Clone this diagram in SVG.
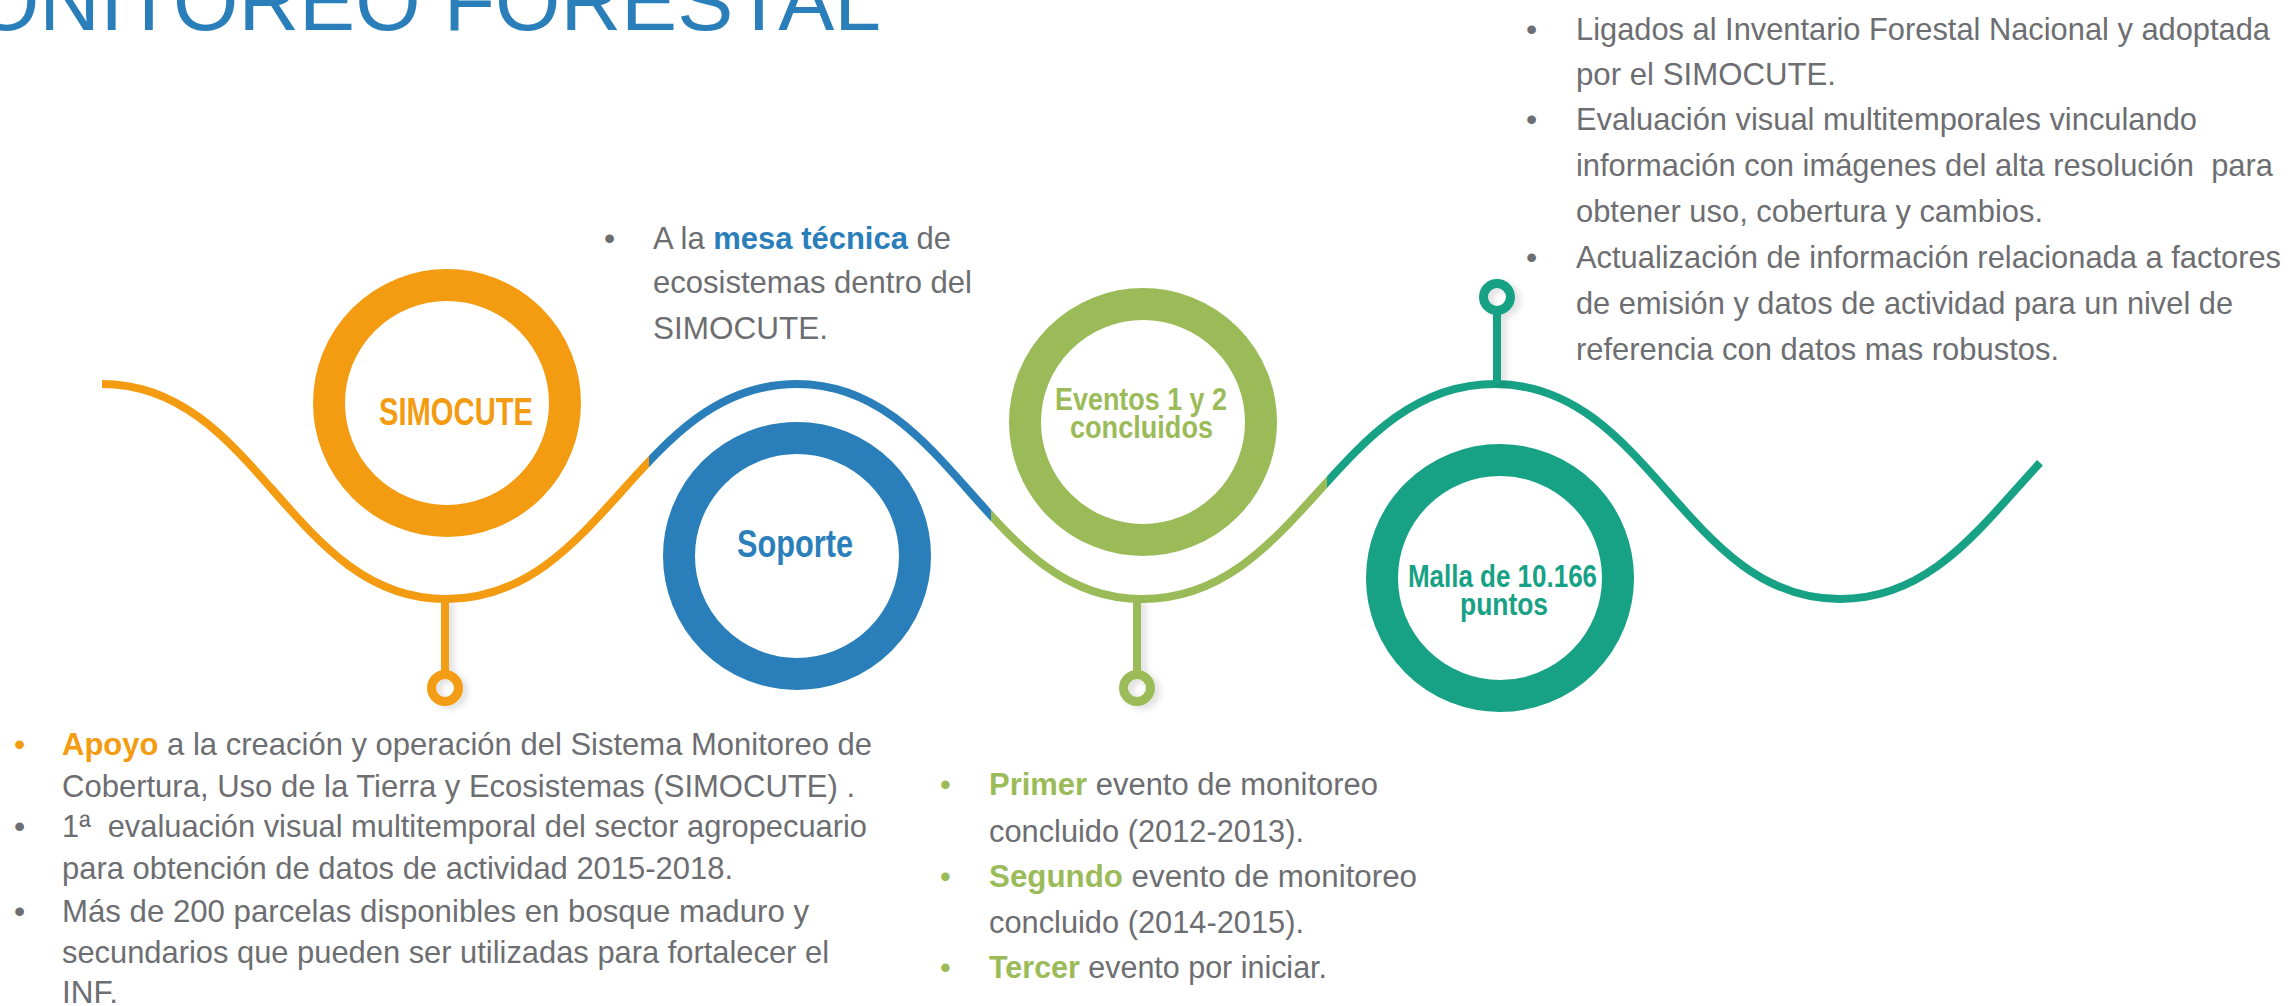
<svg xmlns="http://www.w3.org/2000/svg" width="2288" height="1006" viewBox="0 0 2288 1006">
<defs>
<style>
.t{font-family:"Liberation Sans",Arial,sans-serif;font-size:32px;fill:#6D6E71}
.m{font-size:31px}
.b{font-weight:bold}
.ring{fill:none;stroke-width:32}
.lbl{font-family:"Liberation Sans",Arial,sans-serif;font-weight:bold;text-anchor:start}
.w{fill:none;stroke-width:8;stroke-linecap:butt}
.stem{stroke-width:8;fill:none}
.dot{fill:none;stroke-width:9}
.or{stroke:#F39C12}.bl{stroke:#2A7FBA}.gr{stroke:#9BBB59}.te{stroke:#17A185}
.fo{fill:#F39C12}.fb{fill:#2A7FBA}.fg{fill:#9BBB59}.ft{fill:#17A185}
</style>
<path id="wave" d="M102 384 C257 384 291 599 446 599 C604 599 639 384 797 384 C952 384 987 599 1142 599 C1301 599 1336 384 1495 384 C1650 384 1685 599 1840 599 C1932.4 599 1982.4 524.2 2040 462.8"/>
<clipPath id="cO"><rect x="0" y="0" width="649" height="1006"/></clipPath>
<clipPath id="cB"><rect x="649" y="0" width="342" height="1006"/></clipPath>
<clipPath id="cG"><rect x="991" y="0" width="336" height="1006"/></clipPath>
<clipPath id="cT"><rect x="1327" y="0" width="961" height="1006"/></clipPath>
<filter id="sh" x="-100%" y="-20%" width="300%" height="140%">
<feDropShadow dx="5" dy="3" stdDeviation="3" flood-color="#000" flood-opacity="0.12"/>
</filter>
</defs>
<rect width="2288" height="1006" fill="#fff"/>

<text id="title" x="881" y="30" text-anchor="end" style="font-family:'Liberation Sans',Arial,sans-serif;font-size:84px;fill:#2A7FBA">MONITOREO FORESTAL</text>

<g id="connectors">
<use href="#wave" class="w or" clip-path="url(#cO)"/>
<use href="#wave" class="w bl" clip-path="url(#cB)"/>
<use href="#wave" class="w gr" clip-path="url(#cG)"/>
<use href="#wave" class="w te" clip-path="url(#cT)"/>
<g filter="url(#sh)">
<line class="stem or" x1="445" y1="599" x2="445" y2="675"/>
<circle class="dot or" cx="445" cy="688" r="13.5"/>
<line class="stem gr" x1="1137" y1="599" x2="1137" y2="675"/>
<circle class="dot gr" cx="1137" cy="688" r="13.5"/>
<line class="stem te" x1="1497" y1="384" x2="1497" y2="310"/>
<circle class="dot te" cx="1497" cy="297" r="13.5"/>
</g>
</g>

<g id="node-simocute">
<circle class="ring or" cx="447" cy="403" r="118"/>
<text class="lbl fo" x="379" y="425" font-size="39" textLength="154" lengthAdjust="spacingAndGlyphs">SIMOCUTE</text>
</g>
<g id="node-soporte">
<circle class="ring bl" cx="797" cy="556" r="118"/>
<text class="lbl fb" x="737" y="557" font-size="39" textLength="116" lengthAdjust="spacingAndGlyphs">Soporte</text>
</g>
<g id="node-eventos">
<circle class="ring gr" cx="1143" cy="422" r="118"/>
<text class="lbl fg" x="1055" y="410" font-size="31" textLength="172" lengthAdjust="spacingAndGlyphs">Eventos 1 y 2</text>
<text class="lbl fg" x="1070" y="438" font-size="31" textLength="143" lengthAdjust="spacingAndGlyphs">concluidos</text>
</g>
<g id="node-malla">
<circle class="ring te" cx="1500" cy="578" r="118"/>
<text class="lbl ft" x="1408" y="587" font-size="32" textLength="189" lengthAdjust="spacingAndGlyphs">Malla de 10.166</text>
<text class="lbl ft" x="1460" y="615" font-size="32" textLength="88" lengthAdjust="spacingAndGlyphs">puntos</text>
</g>

<g id="text-top-right">
<text class="t" x="1526" y="40">•</text>
<text class="t" x="1526" y="130">•</text>
<text class="t" x="1526" y="268">•</text>
<text class="t" x="1576" y="40" textLength="694" lengthAdjust="spacingAndGlyphs">Ligados al Inventario Forestal Nacional y adoptada</text>
<text class="t" x="1576" y="85" textLength="260" lengthAdjust="spacingAndGlyphs">por el SIMOCUTE.</text>
<text class="t" x="1576" y="130" textLength="621" lengthAdjust="spacingAndGlyphs">Evaluación visual multitemporales vinculando</text>
<text class="t" x="1576" y="176" textLength="697" lengthAdjust="spacingAndGlyphs" xml:space="preserve">información con imágenes del alta resolución  para</text>
<text class="t" x="1576" y="222" textLength="467" lengthAdjust="spacingAndGlyphs">obtener uso, cobertura y cambios.</text>
<text class="t" x="1576" y="268" textLength="705" lengthAdjust="spacingAndGlyphs">Actualización de información relacionada a factores</text>
<text class="t" x="1576" y="314" textLength="657" lengthAdjust="spacingAndGlyphs">de emisión y datos de actividad para un nivel de</text>
<text class="t" x="1576" y="360" textLength="483" lengthAdjust="spacingAndGlyphs">referencia con datos mas robustos.</text>
</g>

<g id="text-mesa">
<text class="t" x="604" y="249">•</text>
<text class="t" x="653" y="249" textLength="298" lengthAdjust="spacingAndGlyphs">A la <tspan class="b fb">mesa técnica</tspan> de</text>
<text class="t" x="653" y="293" textLength="319" lengthAdjust="spacingAndGlyphs">ecosistemas dentro del</text>
<text class="t" x="653" y="339" textLength="175" lengthAdjust="spacingAndGlyphs">SIMOCUTE.</text>
</g>

<g id="text-bottom-left">
<text class="t fo" x="14" y="755">•</text>
<text class="t" x="14" y="837">•</text>
<text class="t" x="14" y="922">•</text>
<text class="t" x="62" y="755" textLength="810" lengthAdjust="spacingAndGlyphs"><tspan class="b fo">Apoyo</tspan> a la creación y operación del Sistema Monitoreo de</text>
<text class="t" x="62" y="797" textLength="793" lengthAdjust="spacingAndGlyphs">Cobertura, Uso de la Tierra y Ecosistemas (SIMOCUTE) .</text>
<text class="t" x="62" y="837" textLength="805" lengthAdjust="spacingAndGlyphs" xml:space="preserve">1ª  evaluación visual multitemporal del sector agropecuario</text>
<text class="t" x="62" y="879" textLength="671" lengthAdjust="spacingAndGlyphs">para obtención de datos de actividad 2015-2018.</text>
<text class="t" x="62" y="922" textLength="747" lengthAdjust="spacingAndGlyphs">Más de 200 parcelas disponibles en bosque maduro y</text>
<text class="t" x="62" y="963" textLength="767" lengthAdjust="spacingAndGlyphs">secundarios que pueden ser utilizadas para fortalecer el</text>
<text class="t" x="62" y="1003" textLength="56" lengthAdjust="spacingAndGlyphs">INF.</text>
</g>

<g id="text-bottom-mid">
<text class="t m fg" x="940" y="795">•</text>
<text class="t m fg" x="940" y="887">•</text>
<text class="t m fg" x="940" y="978">•</text>
<text class="t m" x="989" y="795" textLength="389" lengthAdjust="spacingAndGlyphs"><tspan class="b fg">Primer</tspan> evento de monitoreo</text>
<text class="t m" x="989" y="842" textLength="315" lengthAdjust="spacingAndGlyphs">concluido (2012-2013).</text>
<text class="t m" x="989" y="887" textLength="428" lengthAdjust="spacingAndGlyphs"><tspan class="b fg">Segundo</tspan> evento de monitoreo</text>
<text class="t m" x="989" y="933" textLength="315" lengthAdjust="spacingAndGlyphs">concluido (2014-2015).</text>
<text class="t m" x="989" y="978" textLength="338" lengthAdjust="spacingAndGlyphs"><tspan class="b fg">Tercer</tspan> evento por iniciar.</text>
</g>
</svg>
